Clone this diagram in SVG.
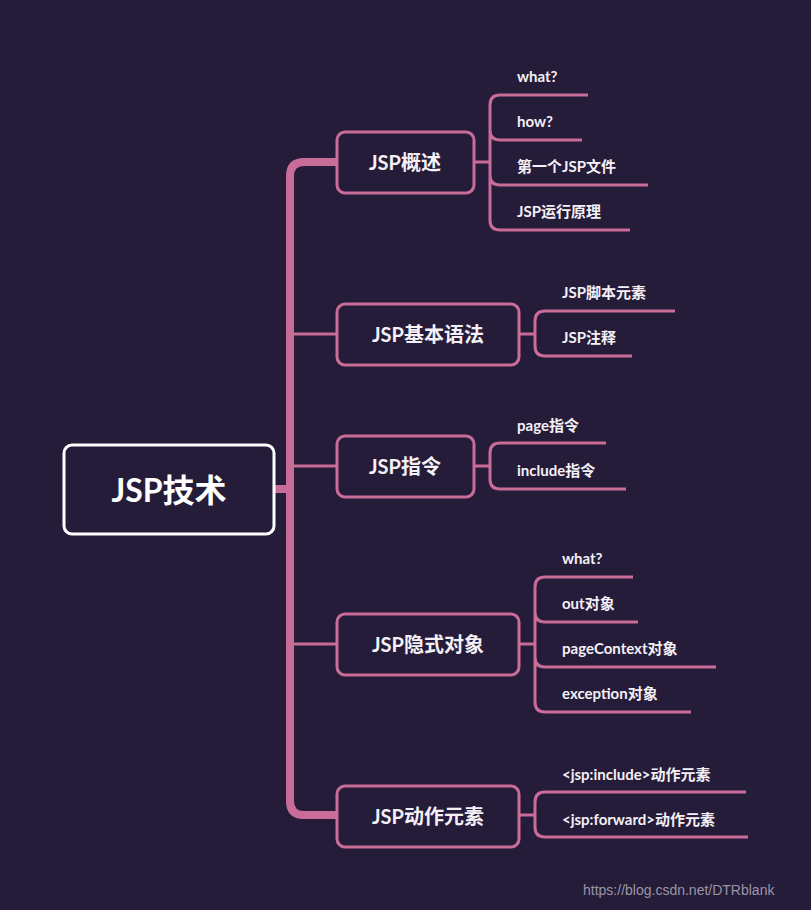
<svg xmlns="http://www.w3.org/2000/svg" width="811" height="910" viewBox="0 0 811 910">
<style>
.c{fill:none;stroke:#c96c98;stroke-width:3;stroke-linecap:butt}
.t{fill:none;stroke:#c96c98;stroke-width:8}
.b{fill:#251c3a;stroke:#c96c98;stroke-width:3}
.l1{font-family:Lato,"Noto Sans CJK SC",sans-serif;font-weight:bold;font-size:20px;fill:#f4f0f6;text-anchor:middle;dominant-baseline:central}
.lf{font-family:Lato,"Noto Sans CJK SC",sans-serif;font-weight:bold;font-size:15px;fill:#f4f0f6}
</style>
<rect width="811" height="910" fill="#251c3a"/>
<g id="connectors">
<path class="t" d="M274,489H290"/>
<path class="t" d="M290,489V176Q290,162 304,162H337"/>
<path class="t" d="M290,489V801Q290,815 304,815H337"/>
<path class="c" d="M290,334H337M290,466H337M290,644H337"/>
<path class="c" d="M474,162H490V105Q490,95 500,95H588M490,162V130Q490,140 500,140H582M490,162V175Q490,185 500,185H648M490,162V220Q490,230 500,230H630"/>
<path class="c" d="M519,334H535V321Q535,311 545,311H675M535,334V346Q535,356 545,356H632"/>
<path class="c" d="M474,466H490V453Q490,443 500,443H606M490,466V479Q490,489 500,489H626"/>
<path class="c" d="M519,644H535V587Q535,577 545,577H633M535,644V612Q535,622 545,622H638M535,644V657Q535,667 545,667H716M535,644V702Q535,712 545,712H691"/>
<path class="c" d="M519,815H535V802Q535,792 545,792H746M535,815V827Q535,837 545,837H748"/>
</g>
<g id="root"><rect x="64" y="445" width="210" height="89" rx="8" fill="#251c3a" stroke="#ffffff" stroke-width="3"/><text x="169" y="489" class="l1" style="font-size:32px;fill:#fff">JSP技术</text></g>
<g id="n1"><rect class="b" x="337" y="132" width="137" height="61" rx="8"/><text class="l1" x="405" y="162">JSP概述</text></g>
<g id="n2"><rect class="b" x="337" y="304" width="182" height="61" rx="8"/><text class="l1" x="428" y="334">JSP基本语法</text></g>
<g id="n3"><rect class="b" x="337" y="436" width="137" height="61" rx="8"/><text class="l1" x="405" y="466">JSP指令</text></g>
<g id="n4"><rect class="b" x="337" y="614" width="182" height="61" rx="8"/><text class="l1" x="428" y="644">JSP隐式对象</text></g>
<g id="n5"><rect class="b" x="337" y="786" width="182" height="61" rx="8"/><text class="l1" x="428" y="816">JSP动作元素</text></g>
<g id="leaves">
<text class="lf" x="517" y="82">what?</text>
<text class="lf" x="517" y="127">how?</text>
<text class="lf" x="517" y="172">第一个JSP文件</text>
<text class="lf" x="517" y="217">JSP运行原理</text>
<text class="lf" x="562" y="298">JSP脚本元素</text>
<text class="lf" x="562" y="343">JSP注释</text>
<text class="lf" x="517" y="431">page指令</text>
<text class="lf" x="517" y="476">include指令</text>
<text class="lf" x="562" y="564">what?</text>
<text class="lf" x="562" y="609">out对象</text>
<text class="lf" x="562" y="654">pageContext对象</text>
<text class="lf" x="562" y="699">exception对象</text>
<text class="lf" x="562" y="780">&lt;jsp:include&gt;动作元素</text>
<text class="lf" x="562" y="825">&lt;jsp:forward&gt;动作元素</text>
</g>
<text x="583" y="895" font-family="Liberation Sans,sans-serif" font-size="14" fill="#9a96a6">https://blog.csdn.net/DTRblank</text>
</svg>
